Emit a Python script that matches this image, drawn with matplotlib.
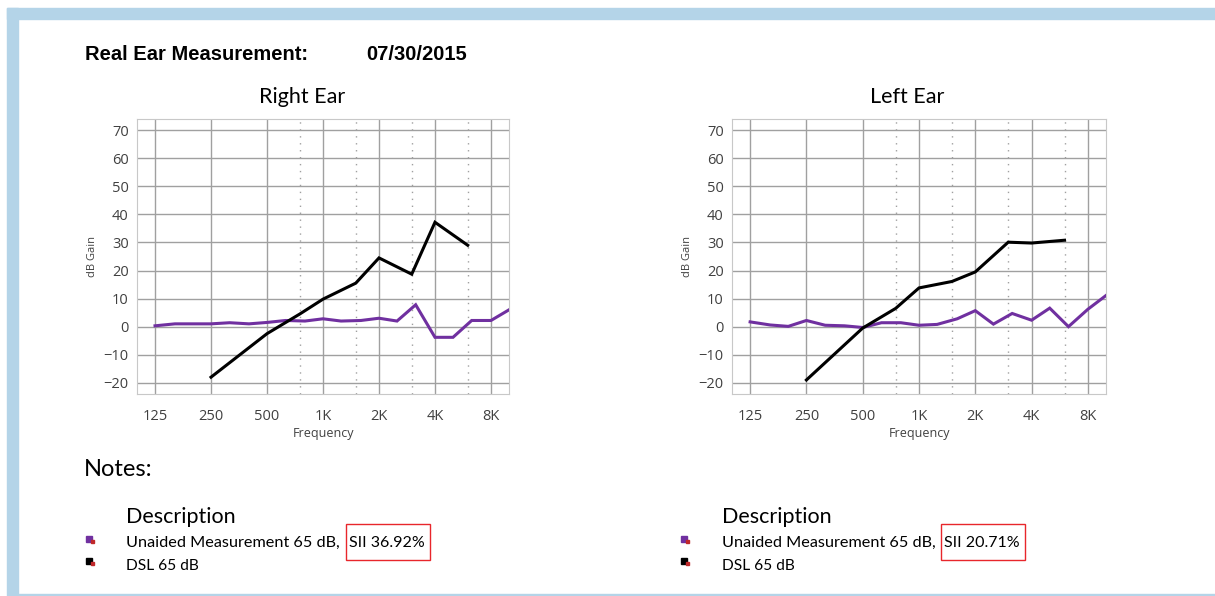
import matplotlib
matplotlib.use('Agg')
import matplotlib.pyplot as plt
from matplotlib.patches import Rectangle

# frequency axis
ticks = [125, 250, 500, 1000, 2000, 4000, 8000]
tick_labels = ['125', '250', '500', '1K', '2K', '4K', '8K']
inter_ticks = [750, 1500, 3000, 6000]

# DSL 65 dB targets
dsl_freqs = [250, 500, 750, 1000, 1500, 2000, 3000, 4000, 6000]
dsl_right = [-18, -2.5, 4.5, 9.8, 15.5, 24.5, 18.7, 37.2, 29.0]
dsl_left = [-19, -0.5, 6.5, 13.8, 16.1, 19.5, 30.1, 29.8, 30.8]

# unaided measurement 65 dB, 1/3 octave
unaided_freqs = [125, 160, 200, 250, 315, 400, 500, 630, 800, 1000, 1250,
                 1600, 2000, 2500, 3150, 4000, 5000, 6300, 8000, 10000]
unaided_right = [0.3, 1.0, 1.0, 1.0, 1.4, 1.0, 1.5, 2.2, 2.0, 2.8, 2.0,
                 2.2, 3.0, 2.0, 7.8, -3.8, -3.8, 2.2, 2.2, 6.0]
unaided_left = [1.7, 0.6, 0.1, 2.2, 0.5, 0.3, -0.3, 1.4, 1.4, 0.5, 0.8,
                2.8, 5.7, 0.9, 4.7, 2.3, 6.6, 0.0, 6.2, 11.1]

sii_right = 'SII 36.92%'
sii_left = 'SII 20.71%'

W, H = 1215, 596
fig = plt.figure(figsize=(W / 100, H / 100), dpi=100)
fig.patch.set_facecolor('white')

def fx(x):
    return x / W

def fy(y):
    return 1 - y / H

blue = '#b4d4e8'
purple = '#7030a0'
# page border
fig.patches.append(Rectangle((fx(7), fy(19)), 1, fy(8) - fy(19), transform=fig.transFigure, color=blue, zorder=0))
fig.patches.append(Rectangle((fx(7), 0), fx(18) - fx(7), fy(8), transform=fig.transFigure, color=blue, zorder=0))
fig.patches.append(Rectangle((fx(18), 0), 1, fy(594), transform=fig.transFigure, color=blue, zorder=0))

fig.text(fx(85), fy(55), 'Real Ear Measurement:', fontsize=14.5, fontweight='bold',
         family='Liberation Sans', va='center')
fig.text(fx(366), fy(55), '07/30/2015', fontsize=14.5, fontweight='bold',
         family='Liberation Sans', va='center')

def draw_ear(left_px, right_px, title_x, title, dsl, unaided):
    ax = fig.add_axes([fx(left_px), fy(394), fx(right_px) - fx(left_px), fy(119) - fy(394)])
    ax.set_xscale('log')
    ax.set_xlim(100, 10000)
    ax.set_ylim(-24, 74)
    ax.set_xticks(ticks)
    ax.set_xticklabels(tick_labels)
    ax.minorticks_off()
    ax.set_yticks(range(-20, 71, 10))
    for f in ticks:
        ax.axvline(f, color='#a0a0a0', lw=1, zorder=1)
    for f in inter_ticks:
        ax.axvline(f, color='#a0a0a0', lw=1, ls=(0, (1, 4)), zorder=1)
    for v in range(-20, 71, 10):
        ax.axhline(v, color='#a0a0a0', lw=1, zorder=1)
    ax.plot(unaided_freqs, unaided, color=purple, lw=2.2, zorder=3, solid_joinstyle='miter')
    ax.plot(dsl_freqs, dsl, color='black', lw=2.2, zorder=4, solid_joinstyle='miter')
    for s in ax.spines.values():
        s.set_color('#c8c8c8')
    ax.tick_params(length=0, labelsize=10.5, colors='#404040', pad=6)
    ax.tick_params(axis='x', pad=11)
    for lab in ax.get_xticklabels() + ax.get_yticklabels():
        lab.set_family('Open Sans')
    ax.set_xlabel('Frequency', fontsize=9, color='#404040', family='Open Sans', labelpad=2)
    ax.set_ylabel('dB Gain', fontsize=8, color='#404040', family='Open Sans', labelpad=4)
    fig.text(fx(title_x), fy(97), title, fontsize=15.5, family='Lato', ha='center', va='center')
    return ax

draw_ear(137, 509, 302, 'Right Ear', dsl_right, unaided_right)
draw_ear(732, 1106, 907, 'Left Ear', dsl_left, unaided_left)

fig.text(fx(84), fy(470), 'Notes:', fontsize=17, family='Lato', va='center')

def legend_block(x_mark, x_text, sii, box):
    fig.text(fx(x_text), fy(517), 'Description', fontsize=15.5, family='Lato', va='center')
    fig.text(fx(x_text), fy(543), 'Unaided Measurement 65 dB,', fontsize=11.7,
             family='Lato', va='center')
    fig.text(fx(box[0] + 3), fy(543), sii, fontsize=11.5, family='Lato', va='center')
    fig.text(fx(x_text), fy(566), 'DSL 65 dB', fontsize=11.2, family='Lato', va='center')
    for yy, c in [(536, purple), (558, 'black')]:
        fig.patches.append(Rectangle((fx(x_mark), fy(yy + 6)), fx(6), fy(0) - fy(6),
                                     transform=fig.transFigure, color=c))
        fig.patches.append(Rectangle((fx(x_mark + 5), fy(yy + 7)), fx(3), fy(0) - fy(3),
                                     transform=fig.transFigure, color='#c0282a'))
    x0, x1 = box
    fig.patches.append(Rectangle((fx(x0), fy(560)), fx(x1) - fx(x0), fy(524) - fy(560),
                                 transform=fig.transFigure, fill=False, ec='#e8262b', lw=1))

legend_block(86, 126, sii_right, (346, 430))
legend_block(681, 722, sii_left, (941, 1025))

fig.savefig('out.png', dpi=100)
